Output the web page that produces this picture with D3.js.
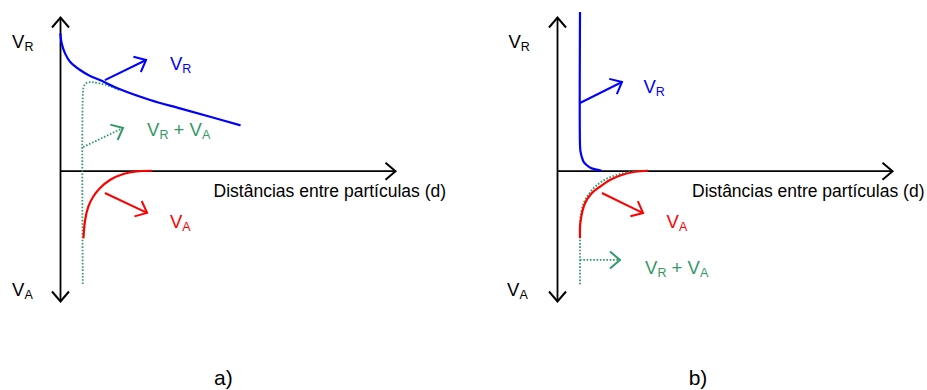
<!DOCTYPE html>
<html>
<head>
<meta charset="utf-8">
<script src="https://cdn.jsdelivr.net/npm/d3@7"></script>
<style>
  body { margin: 0; background: #fff; }
  svg { display: block; }
  text { font-family: "Liberation Sans", Arial, Helvetica, sans-serif; white-space: pre; }
</style>
</head>
<body>
<svg id="chart" width="927" height="390"></svg>
<script>
// Axis extents, in arbitrary units: distance d and interaction energy V
const distanceExtent = [0, 10];
const energyExtent = [-10, 11.8];

// Panel a: long-range repulsion, attraction and the resulting total
const repulsionA = [
  [0.01, 10.54], [0.05, 9.78], [0.15, 9.01], [0.30, 8.37], [0.60, 7.73],
  [0.90, 7.27], [1.19, 6.96], [1.79, 6.25], [2.69, 5.43], [3.58, 4.79],
  [4.48, 4.14], [5.39, 3.48]
];
const attractionA = [
  [0.70, -5.19], [0.75, -3.78], [0.845, -2.76], [0.99, -2.0], [1.19, -1.35],
  [1.49, -0.71], [1.89, -0.25], [2.29, -0.05], [2.74, 0]
];
const totalA = [
  [0.68, -8.7], [0.68, 5.6], [0.71, 6.45], [0.80, 6.75], [0.95, 6.8],
  [1.19, 6.7], [1.49, 6.48], [1.79, 6.15]
];

// Panel b: short-range repulsion, attraction and the resulting total
const repulsionB = [
  [0.687, 12.18], [0.687, 1.97], [0.70, 1.5], [0.74, 1.05], [0.80, 0.66],
  [0.89, 0.42], [1.01, 0.21], [1.19, 0.08], [1.33, 0]
];
const attractionB = [
  [0.687, -5.19], [0.70, -3.94], [0.836, -2.50], [1.036, -1.73], [1.28, -1.23],
  [1.58, -0.71], [1.93, -0.33], [2.33, -0.08], [2.72, 0]
];
const totalB = [
  [0.687, -8.72], [0.687, -5.19], [0.693, -3.78], [0.776, -2.63], [0.925, -1.87],
  [1.164, -1.17], [1.463, -0.64], [1.88, -0.25], [2.33, -0.05], [2.72, 0]
];

// Pointer arrows from each curve towards its label: [series, from, to]
const pointersA = [
  ["VR", [1.34, 6.96], [2.57, 8.50]],
  ["SUM", [0.69, 1.82], [1.88, 3.28]],
  ["VA", [1.34, -1.71], [2.60, -3.24]]
];
const pointersB = [
  ["VR", [0.687, 5.20], [1.94, 6.81]],
  ["VA", [1.34, -1.71], [2.57, -3.25]],
  ["SUM", [0.687, -6.85], [1.88, -6.85]]
];

// Labels: series, parts as [text, isSubscript], anchor [d, V]
const labelsA = [
  ["axis", [["V", 0], ["R", 1]], [-1.43, 9.39]],
  ["axis", [["V", 0], ["A", 1]], [-1.43, -9.62]],
  ["VR", [["V", 0], ["R", 1]], [3.28, 7.73]],
  ["SUM", [["V", 0], ["R", 1], [" + V", 0], ["A", 1]], [2.60, 2.69]],
  ["VA", [["V", 0], ["A", 1]], [3.28, -4.42]]
];
const labelsB = [
  ["axis", [["V", 0], ["R", 1]], [-1.45, 9.39]],
  ["axis", [["V", 0], ["A", 1]], [-1.49, -9.62]],
  ["VR", [["V", 0], ["R", 1]], [2.58, 5.99]],
  ["VA", [["V", 0], ["A", 1]], [3.27, -4.42]],
  ["SUM", [["V", 0], ["R", 1], [" + V", 0], ["A", 1]], [2.63, -7.93]]
];

const distanceTitle = "Distâncias entre partículas (d)";
const captions = ["a)", "b)"];
const titleAnchors = [[4.585, -1.98], [4.03, -1.98]];
const captionAnchors = [[4.60, -16.45], [3.93, -16.45]];

const colors = { VR: "#0000ff", VA: "#ff0000", SUM: "#339966", axis: "#000000" };

const svg = d3.select("#chart");

// Open chevron arrowheads, one per colour
const defs = svg.append("defs");
Object.entries(colors).forEach(([key, c]) => {
  defs.append("marker")
    .attr("id", "head-" + key)
    .attr("markerUnits", "userSpaceOnUse")
    .attr("viewBox", "-16 -16 32 32")
    .attr("markerWidth", 32).attr("markerHeight", 32)
    .attr("refX", 0).attr("refY", 0)
    .attr("orient", "auto-start-reverse")
    .append("path")
    .attr("d", "M-10,-8.5L0,0L-10,8.5")
    .attr("fill", "none")
    .attr("stroke", c)
    .attr("stroke-width", 2)
    .attr("stroke-linejoin", "miter");
});

const panels = [
  { range: [60, 395], repulsion: repulsionA, attraction: attractionA, total: totalA, pointers: pointersA, labels: labelsA },
  { range: [557, 892], repulsion: repulsionB, attraction: attractionB, total: totalB, pointers: pointersB, labels: labelsB }
];

panels.forEach((p, i) => {
  const x = d3.scaleLinear().domain(distanceExtent).range(p.range);
  const y = d3.scaleLinear().domain(energyExtent).range([301, 17]);
  const g = svg.append("g");

  // Distance axis through V = 0
  g.append("g")
    .attr("transform", `translate(0,${y(0)})`)
    .call(d3.axisBottom(x).tickValues([]).tickSizeOuter(0))
    .call(a => a.select(".domain")
      .attr("stroke", colors.axis).attr("stroke-width", 1.8)
      .attr("marker-end", "url(#head-axis)"));

  // Energy axis, arrows at both ends
  g.append("g")
    .attr("transform", `translate(${x(0)},0)`)
    .call(d3.axisLeft(y).tickValues([]).tickSizeOuter(0))
    .call(a => a.select(".domain")
      .attr("stroke", colors.axis).attr("stroke-width", 1.8)
      .attr("marker-start", "url(#head-axis)")
      .attr("marker-end", "url(#head-axis)"));

  const line = d3.line()
    .x(d => x(d[0])).y(d => y(d[1]))
    .curve(d3.curveCatmullRom.alpha(0.5));

  // Total (dotted)
  g.append("path").datum(p.total)
    .attr("d", line)
    .attr("fill", "none").attr("stroke", colors.SUM)
    .attr("stroke-width", 1.8).attr("stroke-dasharray", "1.6,1.7");

  // Repulsion
  g.append("path").datum(p.repulsion)
    .attr("d", line)
    .attr("fill", "none").attr("stroke", colors.VR).attr("stroke-width", 2.2);

  // Attraction
  g.append("path").datum(p.attraction)
    .attr("d", line)
    .attr("fill", "none").attr("stroke", colors.VA).attr("stroke-width", 2.2);

  // Pointer arrows
  g.selectAll(".pointer").data(p.pointers).join("line")
    .attr("class", "pointer")
    .attr("x1", d => x(d[1][0])).attr("y1", d => y(d[1][1]))
    .attr("x2", d => x(d[2][0])).attr("y2", d => y(d[2][1]))
    .attr("stroke", d => colors[d[0]])
    .attr("stroke-width", d => d[0] === "SUM" ? 1.8 : 2)
    .attr("stroke-dasharray", d => d[0] === "SUM" ? "1.6,1.7" : null)
    .attr("marker-end", d => `url(#head-${d[0]})`);

  // Labels with subscripts
  p.labels.forEach(([key, parts, at]) => {
    const t = g.append("text")
      .attr("x", x(at[0])).attr("y", y(at[1]))
      .attr("fill", colors[key]);
    let prevSub = false;
    parts.forEach(([txt, sub]) => {
      t.append("tspan")
        .attr("font-size", sub ? 12.5 : 18.5)
        .attr("dy", sub ? 3 : (prevSub ? -3 : 0))
        .text(txt);
      prevSub = !!sub;
    });
  });

  // Distance axis title
  g.append("text")
    .attr("x", x(titleAnchors[i][0])).attr("y", y(titleAnchors[i][1]))
    .attr("font-size", 17.5).attr("fill", "#000")
    .text(distanceTitle);

  // Panel caption
  g.append("text")
    .attr("x", x(captionAnchors[i][0])).attr("y", y(captionAnchors[i][1]))
    .attr("font-size", 21).attr("fill", "#000")
    .text(captions[i]);
});
</script>
</body>
</html>
